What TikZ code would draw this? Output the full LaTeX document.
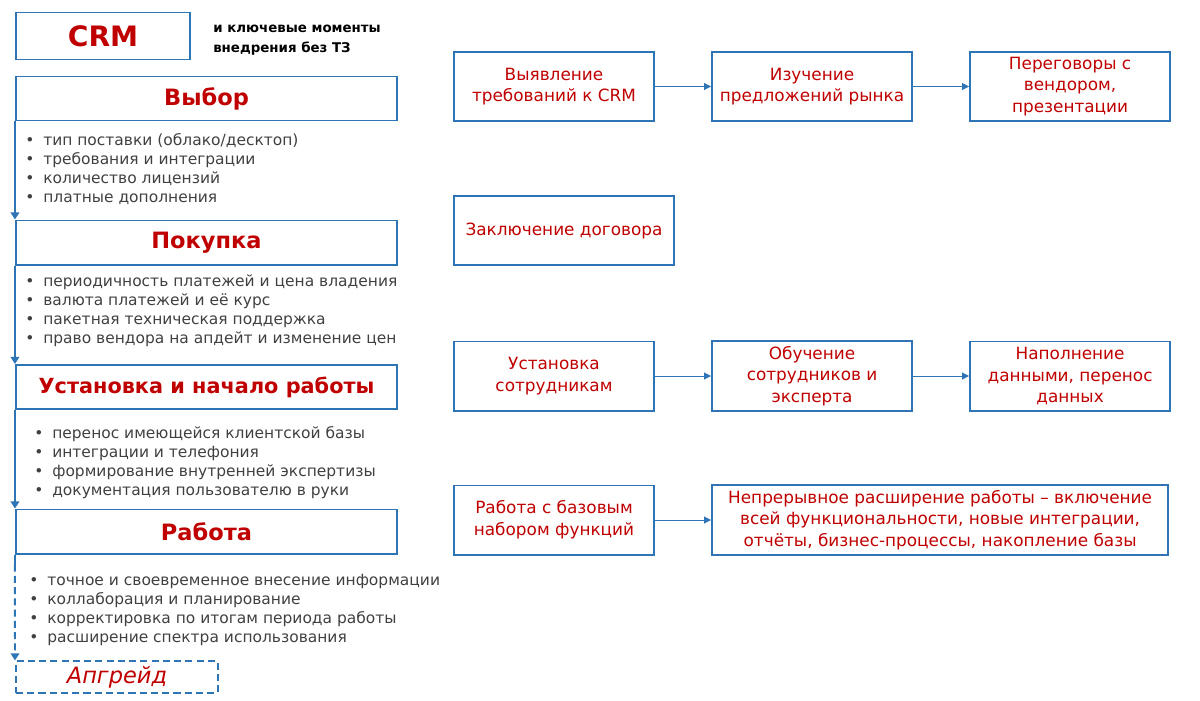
\documentclass[tikz,border=0pt]{standalone}
\usepackage{fontspec}
\setmainfont{DejaVu Sans}
\usetikzlibrary{arrows.meta, positioning}
\definecolor{boxblue}{RGB}{46,117,182}
\definecolor{titlered}{RGB}{192,0,0}
\definecolor{bodygray}{RGB}{64,64,64}
\newcommand{\bitem}{\makebox[0.45cm][l]{\textbullet}}

\begin{document}
\begin{tikzpicture}[x=0.025cm, y=-0.025cm,
    stage/.style={draw=boxblue, line width=1.4pt, minimum width=9.525cm, minimum height=1.1cm,
        text=titlered, font=\fontsize{16}{19}\selectfont\bfseries},
    stepbox/.style={draw=boxblue, line width=1.4pt, minimum width=5cm, minimum height=1.725cm,
        text=titlered, align=center, font=\fontsize{12}{15.5}\selectfont},
    points/.style={anchor=west, align=left, inner sep=0pt, text=bodygray,
        font=\fontsize{11}{13.5}\selectfont},
    flow/.style={draw=boxblue, line width=1.4pt, -{Triangle[length=5pt, width=6pt]}},
    link/.style={draw=boxblue, line width=0.7pt, -{Triangle[length=5pt, width=5pt]}}]
    \useasboundingbox (0,0) rectangle (1200,700);

    % title
    \node[draw=boxblue, line width=1.4pt, minimum width=4.35cm, minimum height=1.175cm,
        text=titlered, font=\fontsize{20}{24}\selectfont\bfseries] (crm) at (103,36) {CRM};
    \node[anchor=west, align=left, inner sep=0pt, font=\fontsize{9.5}{14}\selectfont\bfseries]
        (subtitle) at (213,40) {и ключевые моменты\\внедрения без ТЗ};

    % left column
    \node[stage] (vybor) at (206.5,98.5) {Выбор};
    \node[points] (vyborpts) at (25,169.5) {
        \bitem тип поставки (облако/десктоп)\\
        \bitem требования и интеграции\\
        \bitem количество лицензий\\
        \bitem платные дополнения};
    \node[stage] (pokupka) at (206.5,242.5) {Покупка};
    \node[points] (pokupkapts) at (25,311) {
        \bitem периодичность платежей и цена владения\\
        \bitem валюта платежей и её курс\\
        \bitem пакетная техническая поддержка\\
        \bitem право вендора на апдейт и изменение цен};
    \node[stage, font=\fontsize{14.8}{18}\selectfont\bfseries] (ustanovka) at (206.5,387)
        {Установка и начало работы};
    \node[points] (ustanovkapts) at (34,462.5) {
        \bitem перенос имеющейся клиентской базы\\
        \bitem интеграции и телефония\\
        \bitem формирование внутренней экспертизы\\
        \bitem документация пользователю в руки};
    \node[stage] (rabota) at (206.5,531.5) {Работа};
    \node[points] (rabotapts) at (29,609.5) {
        \bitem точное и своевременное внесение информации\\
        \bitem коллаборация и планирование\\
        \bitem корректировка по итогам периода работы\\
        \bitem расширение спектра использования};
    \node[draw=boxblue, dash pattern=on 5pt off 3pt, line width=1.4pt, minimum width=5.05cm,
        minimum height=0.7cm, text=titlered, font=\fontsize{16}{19}\selectfont\itshape]
        (upgrade) at (117,677) {Апгрейд};

    \draw[flow] (vybor.south west) -- (pokupka.north west);
    \draw[flow] (pokupka.south west) -- (ustanovka.north west);
    \draw[flow] (ustanovka.south west) -- (rabota.north west);
    \coordinate (brk) at ([yshift=-0.25cm]rabota.south west);
    \draw[draw=boxblue, line width=1.4pt] (rabota.south west) -- (brk);
    \draw[flow, dash pattern=on 5pt off 3pt] (brk) -- (upgrade.north west);

    % right side steps
    \node[stepbox] (req) at (554,86.5) {Выявление\\требований к CRM};
    \node[stepbox, right=1.4cm of req] (market) {Изучение\\предложений рынка};
    \node[stepbox, right=1.4cm of market] (vendor) {Переговоры с\\вендором,\\презентации};
    \node[stepbox, minimum width=5.5cm] (contract) at (564,230.5) {Заключение договора};
    \node[stepbox] (install) at (554,376) {Установка\\сотрудникам};
    \node[stepbox, right=1.4cm of install] (training) {Обучение\\сотрудников и\\эксперта};
    \node[stepbox, right=1.4cm of training] (filling) {Наполнение\\данными, перенос\\данных};
    \node[stepbox] (basic) at (554,520) {Работа с базовым\\набором функций};
    \node[stepbox, minimum width=11.4cm, right=1.4cm of basic] (growth)
        {Непрерывное расширение работы – включение\\всей функциональности, новые интеграции,\\отчёты, бизнес-процессы, накопление базы};

    \draw[link] (req) -- (market);
    \draw[link] (market) -- (vendor);
    \draw[link] (install) -- (training);
    \draw[link] (training) -- (filling);
    \draw[link] (basic) -- (growth);
\end{tikzpicture}
\end{document}
